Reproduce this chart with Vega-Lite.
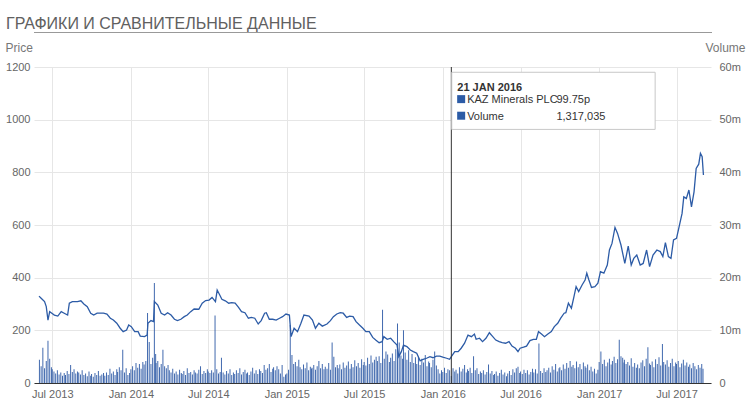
{
"$schema": "https://vega.github.io/schema/vega-lite/v6.json",
"width": 677, "height": 316,
"autosize": {"type": "none"},
"padding": {"left": 34, "top": 67, "right": 38, "bottom": 16},
"background": "white",
"title": {"text": "ГРАФИКИ И СРАВНИТЕЛЬНЫЕ ДАННЫЕ", "anchor": "start", "frame": "group", "font": "Liberation Sans", "fontSize": 16, "fontWeight": "normal", "color": "#606060", "dx": -28, "offset": 0},
"config": {"view": {"stroke": null}, "font": "Liberation Sans",
  "axis": {"labelFont": "Liberation Sans", "labelFontSize": 11, "labelColor": "#666", "gridColor": "#e6e6e6", "tickSize": 0, "domain": false, "titleFont": "Liberation Sans", "titleFontSize": 12, "titleFontWeight": "normal", "titleColor": "#777"}},
"datasets": {
"price": [
{"d":"2013-05-31","p":330},{"d":"2013-06-05","p":322},{"d":"2013-06-13","p":309},{"d":"2013-06-17","p":290},{"d":"2013-06-21","p":239},{"d":"2013-06-25","p":271},{"d":"2013-06-30","p":265},{"d":"2013-07-06","p":258},{"d":"2013-07-14","p":254},{"d":"2013-07-22","p":271},{"d":"2013-07-29","p":265},{"d":"2013-08-06","p":258},{"d":"2013-08-10","p":303},{"d":"2013-08-17","p":309},{"d":"2013-08-29","p":309},{"d":"2013-09-06","p":312},{"d":"2013-09-13","p":300},{"d":"2013-09-21","p":290},{"d":"2013-09-29","p":265},{"d":"2013-10-06","p":258},{"d":"2013-10-14","p":265},{"d":"2013-10-22","p":265},{"d":"2013-10-29","p":265},{"d":"2013-11-06","p":262},{"d":"2013-11-14","p":246},{"d":"2013-11-21","p":239},{"d":"2013-11-29","p":227},{"d":"2013-12-07","p":208},{"d":"2013-12-14","p":195},{"d":"2013-12-22","p":201},{"d":"2013-12-27","p":220},
{"d":"2014-01-02","p":214},{"d":"2014-01-10","p":195},{"d":"2014-01-18","p":195},{"d":"2014-01-23","p":178},{"d":"2014-02-02","p":176},{"d":"2014-02-08","p":182},{"d":"2014-02-10","p":227},{"d":"2014-02-17","p":237},{"d":"2014-02-23","p":233},{"d":"2014-02-25","p":309},{"d":"2014-03-05","p":296},{"d":"2014-03-13","p":265},{"d":"2014-03-21","p":258},{"d":"2014-03-28","p":267},{"d":"2014-04-05","p":258},{"d":"2014-04-13","p":242},{"d":"2014-04-20","p":237},{"d":"2014-04-28","p":242},{"d":"2014-05-06","p":252},{"d":"2014-05-13","p":258},{"d":"2014-05-21","p":271},{"d":"2014-05-29","p":281},{"d":"2014-06-09","p":280},{"d":"2014-06-17","p":303},{"d":"2014-06-25","p":313},{"d":"2014-07-03","p":315},{"d":"2014-07-10","p":325},{"d":"2014-07-18","p":309},{"d":"2014-07-22","p":353},{"d":"2014-07-28","p":334},{"d":"2014-08-02","p":318},{"d":"2014-08-10","p":312},{"d":"2014-08-18","p":303},{"d":"2014-08-25","p":305},{"d":"2014-09-02","p":303},{"d":"2014-09-10","p":287},{"d":"2014-09-17","p":271},{"d":"2014-09-25","p":267},{"d":"2014-10-03","p":246},{"d":"2014-10-10","p":249},{"d":"2014-10-18","p":246},{"d":"2014-10-26","p":224},{"d":"2014-11-02","p":237},{"d":"2014-11-10","p":265},{"d":"2014-11-14","p":267},{"d":"2014-11-21","p":242},{"d":"2014-11-29","p":242},{"d":"2014-12-07","p":239},{"d":"2014-12-15","p":246},{"d":"2014-12-22","p":252},{"d":"2014-12-30","p":262},
{"d":"2015-01-07","p":258},{"d":"2015-01-11","p":176},{"d":"2015-01-18","p":208},{"d":"2015-01-26","p":195},{"d":"2015-02-03","p":227},{"d":"2015-02-10","p":258},{"d":"2015-02-22","p":254},{"d":"2015-03-02","p":239},{"d":"2015-03-09","p":208},{"d":"2015-03-17","p":227},{"d":"2015-03-25","p":216},{"d":"2015-04-05","p":224},{"d":"2015-04-13","p":237},{"d":"2015-04-20","p":252},{"d":"2015-04-28","p":262},{"d":"2015-05-06","p":267},{"d":"2015-05-13","p":265},{"d":"2015-05-21","p":249},{"d":"2015-05-28","p":254},{"d":"2015-06-05","p":252},{"d":"2015-06-12","p":233},{"d":"2015-06-20","p":220},{"d":"2015-06-28","p":208},{"d":"2015-07-05","p":195},{"d":"2015-07-13","p":195},{"d":"2015-07-21","p":173},{"d":"2015-07-28","p":163},{"d":"2015-08-05","p":153},{"d":"2015-08-12","p":157},{"d":"2015-08-16","p":176},{"d":"2015-08-24","p":166},{"d":"2015-09-01","p":170},{"d":"2015-09-08","p":157},{"d":"2015-09-16","p":144},{"d":"2015-09-20","p":100},{"d":"2015-09-26","p":119},{"d":"2015-10-01","p":144},{"d":"2015-10-09","p":138},{"d":"2015-10-17","p":125},{"d":"2015-10-24","p":119},{"d":"2015-11-01","p":113},{"d":"2015-11-09","p":84},{"d":"2015-11-16","p":90},{"d":"2015-11-24","p":94},{"d":"2015-12-02","p":100},{"d":"2015-12-09","p":96},{"d":"2015-12-17","p":102},{"d":"2015-12-25","p":102},
{"d":"2016-01-01","p":98},{"d":"2016-01-10","p":94},{"d":"2016-01-17","p":90},{"d":"2016-01-21","p":99.75},{"d":"2016-01-29","p":119},{"d":"2016-02-06","p":119},{"d":"2016-02-13","p":132},{"d":"2016-02-21","p":151},{"d":"2016-02-29","p":182},{"d":"2016-03-08","p":176},{"d":"2016-03-15","p":186},{"d":"2016-03-19","p":166},{"d":"2016-03-27","p":170},{"d":"2016-04-03","p":157},{"d":"2016-04-11","p":170},{"d":"2016-04-19","p":191},{"d":"2016-04-26","p":178},{"d":"2016-05-04","p":163},{"d":"2016-05-12","p":157},{"d":"2016-05-19","p":153},{"d":"2016-05-27","p":151},{"d":"2016-06-04","p":157},{"d":"2016-06-11","p":140},{"d":"2016-06-19","p":132},{"d":"2016-06-25","p":119},{"d":"2016-06-30","p":132},{"d":"2016-07-08","p":136},{"d":"2016-07-15","p":140},{"d":"2016-07-23","p":161},{"d":"2016-07-31","p":166},{"d":"2016-08-07","p":166},{"d":"2016-08-12","p":195},{"d":"2016-08-19","p":186},{"d":"2016-08-26","p":176},{"d":"2016-09-03","p":186},{"d":"2016-09-11","p":195},{"d":"2016-09-18","p":214},{"d":"2016-09-26","p":227},{"d":"2016-10-03","p":246},{"d":"2016-10-11","p":265},{"d":"2016-10-15","p":267},{"d":"2016-10-21","p":303},{"d":"2016-10-28","p":284},{"d":"2016-11-03","p":328},{"d":"2016-11-08","p":366},{"d":"2016-11-14","p":347},{"d":"2016-11-22","p":372},{"d":"2016-11-29","p":391},{"d":"2016-12-03","p":417},{"d":"2016-12-08","p":391},{"d":"2016-12-14","p":363},{"d":"2016-12-22","p":366},{"d":"2016-12-29","p":379},
{"d":"2017-01-04","p":423},{"d":"2017-01-12","p":417},{"d":"2017-01-20","p":448},{"d":"2017-01-25","p":505},{"d":"2017-01-31","p":530},{"d":"2017-02-07","p":591},{"d":"2017-02-13","p":568},{"d":"2017-02-21","p":524},{"d":"2017-03-02","p":454},{"d":"2017-03-10","p":520},{"d":"2017-03-17","p":448},{"d":"2017-03-23","p":473},{"d":"2017-03-30","p":486},{"d":"2017-04-07","p":448},{"d":"2017-04-14","p":454},{"d":"2017-04-22","p":505},{"d":"2017-04-29","p":442},{"d":"2017-05-07","p":486},{"d":"2017-05-16","p":505},{"d":"2017-05-24","p":499},{"d":"2017-05-30","p":480},{"d":"2017-06-05","p":533},{"d":"2017-06-12","p":480},{"d":"2017-06-18","p":473},{"d":"2017-06-24","p":543},{"d":"2017-07-01","p":549},{"d":"2017-07-07","p":593},{"d":"2017-07-14","p":644},{"d":"2017-07-18","p":707},{"d":"2017-07-24","p":701},{"d":"2017-07-30","p":733},{"d":"2017-08-05","p":669},{"d":"2017-08-11","p":726},{"d":"2017-08-16","p":815},{"d":"2017-08-22","p":831},{"d":"2017-08-26","p":872},{"d":"2017-08-30","p":859},{"d":"2017-09-02","p":790}
],
"vol": [
{"d":"2013-06-01","v":4.4},{"d":"2013-06-05","v":3.2},{"d":"2013-06-09","v":6.7},{"d":"2013-06-13","v":2.8},{"d":"2013-06-17","v":4.2},{"d":"2013-06-21","v":8.0},{"d":"2013-06-25","v":4.6},{"d":"2013-06-29","v":3.0},
{"d":"2013-07-01","v":2.6},{"d":"2013-07-05","v":2.2},{"d":"2013-07-09","v":1.8},{"d":"2013-07-13","v":2.4},{"d":"2013-07-17","v":1.6},{"d":"2013-07-21","v":2.0},{"d":"2013-07-25","v":1.4},{"d":"2013-07-29","v":1.9},
{"d":"2013-08-01","v":1.5},{"d":"2013-08-05","v":2.3},{"d":"2013-08-09","v":1.7},{"d":"2013-08-13","v":3.4},{"d":"2013-08-17","v":2.1},{"d":"2013-08-21","v":2.6},{"d":"2013-08-25","v":1.8},{"d":"2013-08-29","v":2.2},
{"d":"2013-09-01","v":2.0},{"d":"2013-09-05","v":1.6},{"d":"2013-09-09","v":2.4},{"d":"2013-09-13","v":1.5},{"d":"2013-09-17","v":1.8},{"d":"2013-09-21","v":1.3},{"d":"2013-09-25","v":2.2},{"d":"2013-09-29","v":1.4},
{"d":"2013-10-01","v":1.7},{"d":"2013-10-05","v":1.2},{"d":"2013-10-09","v":1.9},{"d":"2013-10-13","v":1.5},{"d":"2013-10-17","v":2.3},{"d":"2013-10-21","v":1.4},{"d":"2013-10-25","v":1.6},{"d":"2013-10-29","v":1.9},
{"d":"2013-11-01","v":1.4},{"d":"2013-11-05","v":2.0},{"d":"2013-11-09","v":1.5},{"d":"2013-11-13","v":2.7},{"d":"2013-11-17","v":1.8},{"d":"2013-11-21","v":2.2},{"d":"2013-11-25","v":1.5},{"d":"2013-11-29","v":2.6},
{"d":"2013-12-01","v":2.1},{"d":"2013-12-05","v":3.0},{"d":"2013-12-09","v":2.4},{"d":"2013-12-13","v":6.3},{"d":"2013-12-17","v":2.0},{"d":"2013-12-21","v":2.8},{"d":"2013-12-25","v":1.5},{"d":"2013-12-29","v":1.9},
{"d":"2014-01-01","v":2.6},{"d":"2014-01-05","v":3.2},{"d":"2014-01-09","v":2.4},{"d":"2014-01-13","v":3.8},{"d":"2014-01-17","v":2.9},{"d":"2014-01-21","v":3.6},{"d":"2014-01-25","v":2.7},{"d":"2014-01-29","v":4.0},
{"d":"2014-02-01","v":3.5},{"d":"2014-02-05","v":4.2},{"d":"2014-02-09","v":13.3},{"d":"2014-02-13","v":7.8},{"d":"2014-02-17","v":3.6},{"d":"2014-02-21","v":4.8},{"d":"2014-02-25","v":19.0},{"d":"2014-02-28","v":5.5},
{"d":"2014-03-01","v":3.8},{"d":"2014-03-05","v":4.2},{"d":"2014-03-09","v":3.0},{"d":"2014-03-13","v":3.6},{"d":"2014-03-17","v":6.3},{"d":"2014-03-21","v":3.2},{"d":"2014-03-25","v":2.8},{"d":"2014-03-29","v":3.4},
{"d":"2014-04-01","v":2.4},{"d":"2014-04-05","v":2.0},{"d":"2014-04-09","v":2.7},{"d":"2014-04-13","v":1.8},{"d":"2014-04-17","v":2.2},{"d":"2014-04-21","v":1.6},{"d":"2014-04-25","v":2.5},{"d":"2014-04-29","v":1.9},
{"d":"2014-05-01","v":1.7},{"d":"2014-05-05","v":2.3},{"d":"2014-05-09","v":1.5},{"d":"2014-05-13","v":2.8},{"d":"2014-05-17","v":1.9},{"d":"2014-05-21","v":2.1},{"d":"2014-05-25","v":1.6},{"d":"2014-05-29","v":2.4},
{"d":"2014-06-01","v":2.0},{"d":"2014-06-05","v":1.8},{"d":"2014-06-09","v":2.5},{"d":"2014-06-13","v":3.2},{"d":"2014-06-17","v":1.7},{"d":"2014-06-21","v":2.3},{"d":"2014-06-25","v":1.9},{"d":"2014-06-29","v":2.6},
{"d":"2014-07-01","v":2.2},{"d":"2014-07-05","v":1.9},{"d":"2014-07-09","v":2.4},{"d":"2014-07-13","v":2.0},{"d":"2014-07-17","v":12.8},{"d":"2014-07-21","v":2.6},{"d":"2014-07-25","v":1.8},{"d":"2014-07-29","v":2.1},
{"d":"2014-08-01","v":4.8},{"d":"2014-08-05","v":2.0},{"d":"2014-08-09","v":1.6},{"d":"2014-08-13","v":2.3},{"d":"2014-08-17","v":1.8},{"d":"2014-08-21","v":2.6},{"d":"2014-08-25","v":1.5},{"d":"2014-08-29","v":2.0},
{"d":"2014-09-01","v":1.7},{"d":"2014-09-05","v":2.4},{"d":"2014-09-09","v":1.9},{"d":"2014-09-13","v":2.8},{"d":"2014-09-17","v":1.6},{"d":"2014-09-21","v":2.1},{"d":"2014-09-25","v":2.5},{"d":"2014-09-29","v":1.8},
{"d":"2014-10-01","v":2.0},{"d":"2014-10-05","v":1.5},{"d":"2014-10-09","v":2.2},{"d":"2014-10-13","v":2.9},{"d":"2014-10-17","v":1.8},{"d":"2014-10-21","v":2.4},{"d":"2014-10-25","v":1.7},{"d":"2014-10-29","v":2.6},
{"d":"2014-11-01","v":2.3},{"d":"2014-11-05","v":1.9},{"d":"2014-11-09","v":3.4},{"d":"2014-11-13","v":2.5},{"d":"2014-11-17","v":2.8},{"d":"2014-11-21","v":3.6},{"d":"2014-11-25","v":2.1},{"d":"2014-11-29","v":2.7},
{"d":"2014-12-01","v":3.0},{"d":"2014-12-05","v":2.4},{"d":"2014-12-09","v":3.2},{"d":"2014-12-13","v":2.6},{"d":"2014-12-17","v":1.8},{"d":"2014-12-21","v":3.4},{"d":"2014-12-25","v":1.2},{"d":"2014-12-29","v":1.6},
{"d":"2015-01-01","v":1.8},{"d":"2015-01-05","v":2.5},{"d":"2015-01-09","v":11.0},{"d":"2015-01-13","v":5.3},{"d":"2015-01-17","v":3.6},{"d":"2015-01-21","v":4.0},{"d":"2015-01-25","v":3.2},{"d":"2015-01-29","v":4.4},
{"d":"2015-02-01","v":3.0},{"d":"2015-02-05","v":2.6},{"d":"2015-02-09","v":3.5},{"d":"2015-02-13","v":2.8},{"d":"2015-02-17","v":3.9},{"d":"2015-02-21","v":2.4},{"d":"2015-02-25","v":3.1},{"d":"2015-02-28","v":2.7},
{"d":"2015-03-01","v":2.9},{"d":"2015-03-05","v":3.4},{"d":"2015-03-09","v":2.5},{"d":"2015-03-13","v":3.2},{"d":"2015-03-17","v":4.2},{"d":"2015-03-21","v":2.8},{"d":"2015-03-25","v":3.6},{"d":"2015-03-29","v":2.6},
{"d":"2015-04-01","v":3.1},{"d":"2015-04-05","v":2.7},{"d":"2015-04-09","v":3.8},{"d":"2015-04-13","v":2.5},{"d":"2015-04-17","v":7.7},{"d":"2015-04-21","v":5.0},{"d":"2015-04-25","v":3.0},{"d":"2015-04-29","v":3.4},
{"d":"2015-05-01","v":2.8},{"d":"2015-05-05","v":3.5},{"d":"2015-05-09","v":2.6},{"d":"2015-05-13","v":3.9},{"d":"2015-05-17","v":2.9},{"d":"2015-05-21","v":3.3},{"d":"2015-05-25","v":4.1},{"d":"2015-05-29","v":2.7},
{"d":"2015-06-01","v":3.6},{"d":"2015-06-05","v":3.0},{"d":"2015-06-09","v":4.3},{"d":"2015-06-13","v":3.2},{"d":"2015-06-17","v":3.8},{"d":"2015-06-21","v":2.9},{"d":"2015-06-25","v":4.5},{"d":"2015-06-29","v":3.4},
{"d":"2015-07-01","v":4.0},{"d":"2015-07-05","v":3.3},{"d":"2015-07-09","v":4.8},{"d":"2015-07-13","v":3.6},{"d":"2015-07-17","v":5.2},{"d":"2015-07-21","v":3.9},{"d":"2015-07-25","v":4.4},{"d":"2015-07-29","v":5.0},
{"d":"2015-08-01","v":4.2},{"d":"2015-08-05","v":5.1},{"d":"2015-08-09","v":3.8},{"d":"2015-08-13","v":13.9},{"d":"2015-08-17","v":4.6},{"d":"2015-08-21","v":6.0},{"d":"2015-08-25","v":5.4},{"d":"2015-08-29","v":4.0},
{"d":"2015-09-01","v":4.8},{"d":"2015-09-05","v":5.6},{"d":"2015-09-09","v":4.2},{"d":"2015-09-13","v":6.4},{"d":"2015-09-17","v":11.3},{"d":"2015-09-21","v":7.7},{"d":"2015-09-25","v":5.2},{"d":"2015-09-29","v":4.6},
{"d":"2015-10-01","v":10.0},{"d":"2015-10-05","v":5.8},{"d":"2015-10-09","v":4.4},{"d":"2015-10-13","v":6.2},{"d":"2015-10-17","v":4.0},{"d":"2015-10-21","v":5.5},{"d":"2015-10-25","v":3.8},{"d":"2015-10-29","v":4.9},
{"d":"2015-11-01","v":3.6},{"d":"2015-11-05","v":5.0},{"d":"2015-11-09","v":3.4},{"d":"2015-11-13","v":4.6},{"d":"2015-11-17","v":3.9},{"d":"2015-11-21","v":5.3},{"d":"2015-11-25","v":3.2},{"d":"2015-11-29","v":4.1},
{"d":"2015-12-01","v":3.8},{"d":"2015-12-05","v":3.0},{"d":"2015-12-09","v":4.4},{"d":"2015-12-13","v":6.0},{"d":"2015-12-17","v":3.3},{"d":"2015-12-21","v":2.6},{"d":"2015-12-25","v":1.8},{"d":"2015-12-29","v":2.4},
{"d":"2016-01-01","v":2.1},{"d":"2016-01-05","v":2.9},{"d":"2016-01-09","v":1.9},{"d":"2016-01-13","v":2.6},{"d":"2016-01-17","v":2.4},{"d":"2016-01-21","v":1.317},{"d":"2016-01-25","v":2.8},{"d":"2016-01-29","v":2.2},
{"d":"2016-02-01","v":2.5},{"d":"2016-02-05","v":1.8},{"d":"2016-02-09","v":3.0},{"d":"2016-02-13","v":2.2},{"d":"2016-02-17","v":2.7},{"d":"2016-02-21","v":3.4},{"d":"2016-02-25","v":2.0},{"d":"2016-02-28","v":2.6},
{"d":"2016-03-01","v":2.3},{"d":"2016-03-05","v":2.9},{"d":"2016-03-09","v":1.9},{"d":"2016-03-13","v":5.1},{"d":"2016-03-17","v":2.4},{"d":"2016-03-21","v":2.8},{"d":"2016-03-25","v":1.7},{"d":"2016-03-29","v":2.2},
{"d":"2016-04-01","v":1.9},{"d":"2016-04-05","v":2.4},{"d":"2016-04-09","v":1.6},{"d":"2016-04-13","v":2.1},{"d":"2016-04-17","v":3.5},{"d":"2016-04-21","v":1.8},{"d":"2016-04-25","v":2.3},{"d":"2016-04-29","v":1.5},
{"d":"2016-05-01","v":1.7},{"d":"2016-05-05","v":2.2},{"d":"2016-05-09","v":1.4},{"d":"2016-05-13","v":1.9},{"d":"2016-05-17","v":2.5},{"d":"2016-05-21","v":1.6},{"d":"2016-05-25","v":2.0},{"d":"2016-05-29","v":1.3},
{"d":"2016-06-01","v":1.8},{"d":"2016-06-05","v":2.3},{"d":"2016-06-09","v":1.5},{"d":"2016-06-13","v":2.6},{"d":"2016-06-17","v":2.0},{"d":"2016-06-21","v":2.8},{"d":"2016-06-25","v":3.1},{"d":"2016-06-29","v":1.9},
{"d":"2016-07-01","v":2.2},{"d":"2016-07-05","v":1.7},{"d":"2016-07-09","v":2.5},{"d":"2016-07-13","v":1.9},{"d":"2016-07-17","v":2.4},{"d":"2016-07-21","v":1.6},{"d":"2016-07-25","v":2.1},{"d":"2016-07-29","v":2.7},
{"d":"2016-08-01","v":2.0},{"d":"2016-08-05","v":2.6},{"d":"2016-08-09","v":1.8},{"d":"2016-08-13","v":7.5},{"d":"2016-08-17","v":2.3},{"d":"2016-08-21","v":1.9},{"d":"2016-08-25","v":2.8},{"d":"2016-08-29","v":2.1},
{"d":"2016-09-01","v":2.4},{"d":"2016-09-05","v":2.9},{"d":"2016-09-09","v":2.0},{"d":"2016-09-13","v":3.2},{"d":"2016-09-17","v":2.5},{"d":"2016-09-21","v":3.6},{"d":"2016-09-25","v":2.2},{"d":"2016-09-29","v":2.8},
{"d":"2016-10-01","v":3.0},{"d":"2016-10-05","v":2.4},{"d":"2016-10-09","v":3.5},{"d":"2016-10-13","v":2.7},{"d":"2016-10-17","v":3.8},{"d":"2016-10-21","v":2.9},{"d":"2016-10-25","v":4.2},{"d":"2016-10-29","v":3.1},
{"d":"2016-11-01","v":3.4},{"d":"2016-11-05","v":2.8},{"d":"2016-11-09","v":4.1},{"d":"2016-11-13","v":3.0},{"d":"2016-11-17","v":3.6},{"d":"2016-11-21","v":2.6},{"d":"2016-11-25","v":3.9},{"d":"2016-11-29","v":3.2},
{"d":"2016-12-01","v":2.9},{"d":"2016-12-05","v":3.5},{"d":"2016-12-09","v":2.4},{"d":"2016-12-13","v":3.1},{"d":"2016-12-17","v":2.2},{"d":"2016-12-21","v":2.7},{"d":"2016-12-25","v":1.8},{"d":"2016-12-29","v":2.5},
{"d":"2017-01-01","v":4.0},{"d":"2017-01-05","v":6.0},{"d":"2017-01-09","v":3.6},{"d":"2017-01-13","v":4.4},{"d":"2017-01-17","v":3.2},{"d":"2017-01-21","v":3.9},{"d":"2017-01-25","v":4.6},{"d":"2017-01-29","v":3.5},
{"d":"2017-02-01","v":4.2},{"d":"2017-02-05","v":5.0},{"d":"2017-02-09","v":3.8},{"d":"2017-02-13","v":4.5},{"d":"2017-02-17","v":8.2},{"d":"2017-02-21","v":5.1},{"d":"2017-02-25","v":4.8},{"d":"2017-02-28","v":3.9},
{"d":"2017-03-01","v":4.4},{"d":"2017-03-05","v":3.6},{"d":"2017-03-09","v":4.0},{"d":"2017-03-13","v":3.3},{"d":"2017-03-17","v":4.7},{"d":"2017-03-21","v":3.1},{"d":"2017-03-25","v":3.8},{"d":"2017-03-29","v":2.9},
{"d":"2017-04-01","v":3.5},{"d":"2017-04-05","v":2.8},{"d":"2017-04-09","v":3.9},{"d":"2017-04-13","v":4.3},{"d":"2017-04-17","v":3.2},{"d":"2017-04-21","v":4.6},{"d":"2017-04-25","v":6.8},{"d":"2017-04-29","v":3.7},
{"d":"2017-05-01","v":3.4},{"d":"2017-05-05","v":4.1},{"d":"2017-05-09","v":3.0},{"d":"2017-05-13","v":4.5},{"d":"2017-05-17","v":3.6},{"d":"2017-05-21","v":4.9},{"d":"2017-05-25","v":3.3},{"d":"2017-05-29","v":7.4},
{"d":"2017-06-01","v":4.0},{"d":"2017-06-05","v":3.5},{"d":"2017-06-09","v":4.3},{"d":"2017-06-13","v":3.1},{"d":"2017-06-17","v":3.8},{"d":"2017-06-21","v":4.6},{"d":"2017-06-25","v":3.2},{"d":"2017-06-29","v":3.9},
{"d":"2017-07-01","v":3.6},{"d":"2017-07-05","v":4.2},{"d":"2017-07-09","v":3.0},{"d":"2017-07-13","v":3.7},{"d":"2017-07-17","v":4.4},{"d":"2017-07-21","v":3.3},{"d":"2017-07-25","v":3.9},{"d":"2017-07-29","v":3.1},
{"d":"2017-08-01","v":3.5},{"d":"2017-08-05","v":2.8},{"d":"2017-08-09","v":3.8},{"d":"2017-08-13","v":3.2},{"d":"2017-08-17","v":2.6},{"d":"2017-08-21","v":3.4},{"d":"2017-08-25","v":2.9},{"d":"2017-08-29","v":3.6},
{"d":"2017-09-01","v":2.7}
]
},
"layer": [
  {
    "data": {"name": "vol"},
    "mark": {"type": "bar", "width": 1, "color": "#2c59a5", "opacity": 0.9},
    "encoding": {
      "x": {"field": "d", "type": "temporal", "scale": {"type": "utc", "domain": [{"year": 2013, "month": 5, "date": 31, "utc": true}, {"year": 2017, "month": 9, "date": 8, "utc": true}]},
            "axis": {"orient": "top", "offset": 35, "labels": false, "ticks": false, "grid": false, "domain": true, "domainDash": [1, 1], "domainColor": "#333", "domainWidth": 1, "title": null}},
      "y": {"field": "v", "type": "quantitative", "scale": {"domain": [0, 60]},
            "axis": {"orient": "right", "values": [0, 10, 20, 30, 40, 50, 60], "labelExpr": "datum.value === 0 ? '0' : datum.value + 'm'", "labelPadding": 8, "grid": false, "title": "Volume", "titleAngle": 0, "titleAlign": "right", "titleBaseline": "alphabetic", "titleX": 34, "titleY": -16}}
    }
  },
  {
    "layer": [
      {
        "data": {"name": "price"},
        "mark": {"type": "line", "color": "#2c5ba6", "strokeWidth": 1.3},
        "encoding": {
          "x": {"field": "d", "type": "temporal", "scale": {"type": "utc", "domain": [{"year": 2013, "month": 5, "date": 31, "utc": true}, {"year": 2017, "month": 9, "date": 8, "utc": true}]},
                "axis": {"orient": "bottom", "format": "%b %Y", "labelPadding": 5, "grid": true, "domain": true, "domainColor": "#333", "domainWidth": 1, "title": null,
                  "values": [{"year": 2013, "month": 7, "date": 1, "utc": true}, {"year": 2014, "month": 1, "date": 1, "utc": true}, {"year": 2014, "month": 7, "date": 1, "utc": true}, {"year": 2015, "month": 1, "date": 1, "utc": true}, {"year": 2015, "month": 7, "date": 1, "utc": true}, {"year": 2016, "month": 1, "date": 1, "utc": true}, {"year": 2016, "month": 7, "date": 1, "utc": true}, {"year": 2017, "month": 1, "date": 1, "utc": true}, {"year": 2017, "month": 7, "date": 1, "utc": true}]}},
          "y": {"field": "p", "type": "quantitative", "scale": {"domain": [0, 1200]},
                "axis": {"orient": "left", "values": [0, 200, 400, 600, 800, 1000, 1200], "format": "d", "labelPadding": 4, "grid": true, "title": "Price", "titleAngle": 0, "titleAlign": "left", "titleBaseline": "alphabetic", "titleX": -29, "titleY": -16}}
        }
      },
      {
        "data": {"values": [{}]},
        "mark": {"type": "rule", "color": "#333", "strokeWidth": 1},
        "encoding": {
          "x": {"datum": {"year": 2016, "month": 1, "date": 21, "utc": true}, "type": "temporal"},
          "y": {"datum": 1200, "type": "quantitative"},
          "y2": {"datum": 0}
        }
      },
      {
        "data": {"values": [{}]},
        "mark": {"type": "rect", "fill": "white", "stroke": "#c8c8c8", "strokeWidth": 1},
        "encoding": {
          "x": {"datum": {"year": 2016, "month": 1, "date": 22, "utc": true}, "type": "temporal"},
          "x2": {"datum": {"year": 2017, "month": 5, "date": 12, "utc": true}},
          "y": {"datum": 1180, "type": "quantitative"},
          "y2": {"datum": 963}
        }
      },
      {
        "data": {"values": [{}]},
        "mark": {"type": "text", "align": "left", "baseline": "alphabetic", "font": "Liberation Sans", "fontSize": 11, "fontWeight": "bold", "color": "#333"},
        "encoding": {
          "x": {"datum": {"year": 2016, "month": 2, "date": 4, "utc": true}, "type": "temporal"},
          "y": {"datum": 1110, "type": "quantitative"},
          "text": {"value": "21 JAN 2016"}
        }
      },
      {
        "data": {"values": [{}]},
        "mark": {"type": "point", "shape": "square", "filled": true, "size": 64, "color": "#2c5ba6", "opacity": 1},
        "encoding": {
          "x": {"datum": {"year": 2016, "month": 2, "date": 13, "utc": true}, "type": "temporal"},
          "y": {"datum": 1078, "type": "quantitative"}
        }
      },
      {
        "data": {"values": [{}]},
        "mark": {"type": "point", "shape": "square", "filled": true, "size": 64, "color": "#2c5ba6", "opacity": 1},
        "encoding": {
          "x": {"datum": {"year": 2016, "month": 2, "date": 13, "utc": true}, "type": "temporal"},
          "y": {"datum": 1015, "type": "quantitative"}
        }
      },
      {
        "data": {"values": [{}]},
        "mark": {"type": "text", "align": "left", "baseline": "alphabetic", "font": "Liberation Sans", "fontSize": 11, "color": "#333"},
        "encoding": {
          "x": {"datum": {"year": 2016, "month": 2, "date": 27, "utc": true}, "type": "temporal"},
          "y": {"datum": 1062, "type": "quantitative"},
          "text": {"value": "KAZ Minerals PLC"}
        }
      },
      {
        "data": {"values": [{}]},
        "mark": {"type": "text", "align": "left", "baseline": "alphabetic", "font": "Liberation Sans", "fontSize": 11, "color": "#333"},
        "encoding": {
          "x": {"datum": {"year": 2016, "month": 9, "date": 23, "utc": true}, "type": "temporal"},
          "y": {"datum": 1062, "type": "quantitative"},
          "text": {"value": "99.75p"}
        }
      },
      {
        "data": {"values": [{}]},
        "mark": {"type": "text", "align": "left", "baseline": "alphabetic", "font": "Liberation Sans", "fontSize": 11, "color": "#333"},
        "encoding": {
          "x": {"datum": {"year": 2016, "month": 2, "date": 27, "utc": true}, "type": "temporal"},
          "y": {"datum": 999, "type": "quantitative"},
          "text": {"value": "Volume"}
        }
      },
      {
        "data": {"values": [{}]},
        "mark": {"type": "text", "align": "left", "baseline": "alphabetic", "font": "Liberation Sans", "fontSize": 11, "color": "#333"},
        "encoding": {
          "x": {"datum": {"year": 2016, "month": 9, "date": 23, "utc": true}, "type": "temporal"},
          "y": {"datum": 999, "type": "quantitative"},
          "text": {"value": "1,317,035"}
        }
      }
    ]
  }
],
"resolve": {"scale": {"y": "independent"}, "axis": {"x": "independent"}}
}
